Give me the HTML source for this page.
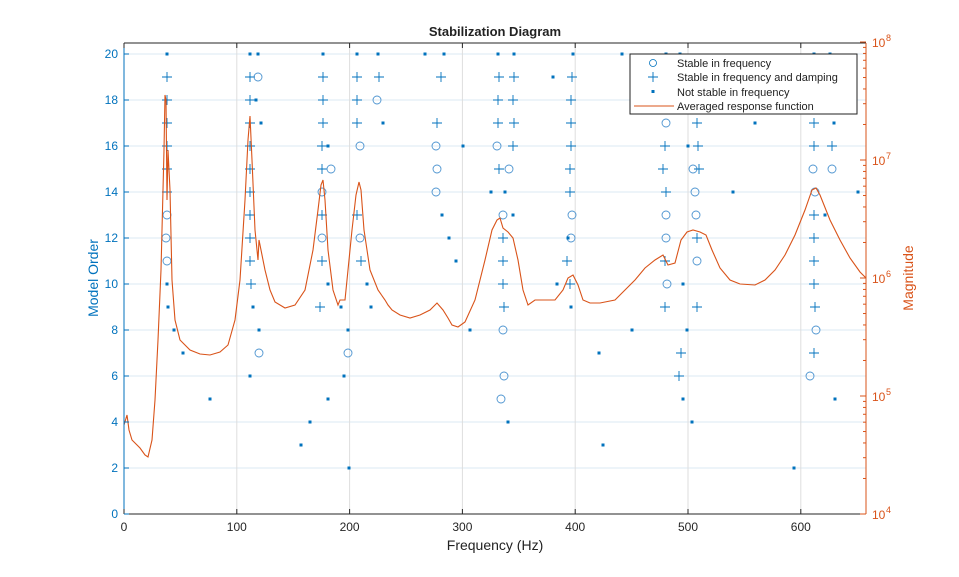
<!DOCTYPE html>
<html><head><meta charset="utf-8"><style>
html,body{margin:0;padding:0;background:#fff;}
svg{display:block;font-family:"Liberation Sans",sans-serif;}
</style></head><body>
<svg id="s" width="959" height="577" viewBox="0 0 959 577" xmlns="http://www.w3.org/2000/svg">
<rect width="959" height="577" fill="#fff"/>
<g id="grid"></g>
<g id="data"></g>
<g id="axes"></g>
<text x="495" y="36" text-anchor="middle" font-size="13" font-weight="bold" fill="#222">Stabilization Diagram</text>
<text x="495" y="550" text-anchor="middle" font-size="14" fill="#222">Frequency (Hz)</text>
<text transform="translate(98,278) rotate(-90)" text-anchor="middle" font-size="14" fill="#0072BD">Model Order</text>
<text transform="translate(913,278) rotate(-90)" text-anchor="middle" font-size="14" fill="#D95319">Magnitude</text>
<g id="legend">
<rect x="630" y="54" width="227" height="60" fill="#fff" stroke="#222" stroke-width="1"/>
<circle cx="653" cy="63" r="3.5" fill="none" stroke="#0072BD" stroke-width="0.8"/>
<path d="M648,77h10M653,72v10" stroke="#0072BD" stroke-width="0.9"/>
<rect x="651.5" y="90" width="3" height="3" fill="#0072BD"/>
<path d="M634,106H674" stroke="#D95319" stroke-width="1"/>
<text x="677" y="67" font-size="11" fill="#222">Stable in frequency</text>
<text x="677" y="81" font-size="11" fill="#222">Stable in frequency and damping</text>
<text x="677" y="96" font-size="11" fill="#222">Not stable in frequency</text>
<text x="677" y="110" font-size="11" fill="#222">Averaged response function</text>
</g>
</svg>
<script>
const NS="http://www.w3.org/2000/svg";
function el(p,t,a,txt){const e=document.createElementNS(NS,t);for(const k in a)e.setAttribute(k,a[k]);if(txt!==undefined)e.textContent=txt;document.getElementById(p).appendChild(e);return e;}
const L=124,R=866,T=43,B=514;
const X=f=>L+f*1.128, Y=o=>B-23*o;
// grid
for(let o=2;o<=20;o+=2)el("grid","line",{x1:L,x2:R,y1:Y(o),y2:Y(o),stroke:"#dbe8f3","stroke-width":1});
for(let f=100;f<=600;f+=100)el("grid","line",{x1:X(f),x2:X(f),y1:T,y2:B,stroke:"#dedede","stroke-width":1});
// data points: [x px, order, type]
const rows={
20:"d167 d250 d258 d323 d357 d378 d425 d444 d498 d514 d573 d622 d666 d680 d814 d830",
19:"p167 p250 o258 p323 p357 p379 p441 p499 p514 d553 p572",
18:"p167 p250 d256 p323 p357 o377 p498 p513 p571",
17:"p167 p250 d261 p323 p357 d383 p437 p498 p514 p571 o666 p697 d755 p814 d834",
16:"p167 p250 p322 d328 o360 o436 d463 o497 p513 p571 p665 d688 p698 p814 p832",
15:"p167 p250 p322 o331 o437 p499 o509 p570 p663 o693 p699 o813 o832",
14:"p167 p250 o322 o436 d491 d505 p570 p666 o695 d733 o815 d858",
13:"o167 p250 p322 p357 d442 o503 d513 o572 o666 o696 p814 d825",
12:"o166 p250 o322 o360 d449 p503 o571 d568 o666 p697 p814",
11:"o167 p250 p322 p361 d456 p503 p567 p665 o697 p814",
10:"d167 p251 d328 d367 p503 d557 p570 o667 d683 p814",
9:"d168 d253 p320 d341 d371 p504 d571 p665 p697 p815",
8:"d174 d259 d348 d470 o503 d632 d687 o816",
7:"d183 o259 o348 d599 p681 p814",
6:"d250 d344 o504 p679 o810",
5:"d210 d328 o501 d683 d835",
4:"d310 d508 d692",
3:"d301 d603",
2:"d349 d794"};
const C="#0072BD";
for(const o in rows){const y=Y(+o);rows[o].split(" ").forEach(s=>{const t=s[0],x=+s.slice(1);
 if(t==="o")el("data","circle",{cx:x,cy:y,r:4,fill:"none",stroke:"#4d94d0","stroke-width":0.9});
 else if(t==="p")el("data","path",{d:`M${x-5},${y}h10M${x},${y-5}v10`,stroke:C,"stroke-width":0.9});
 else el("data","rect",{x:x-1.5,y:y-1.5,width:3,height:3,fill:C});});}
// curve
const pts=[[124,425],[127,415],[129,430],[132,440],[140,448],[145,455],[148,457],[152,440],[155,400],[158,340],[161,270],[164,150],[165,95],[166,100],[167,200],[168,150],[170,190],[172,280],[175,320],[180,340],[190,350],[200,354],[210,355],[220,352],[228,345],[235,320],[240,280],[245,200],[248,140],[250,116],[252,160],[255,230],[258,260],[259,240],[262,255],[265,270],[270,290],[275,302],[285,308],[295,305],[305,290],[313,250],[318,210],[321,185],[323,180],[325,200],[328,250],[333,290],[338,305],[340,300],[345,300],[352,230],[356,195],[359,182],[361,190],[364,230],[370,270],[378,290],[385,300],[388,305],[392,310],[400,315],[410,318],[420,315],[430,310],[437,303],[443,310],[448,318],[452,325],[458,327],[465,322],[475,300],[485,260],[492,230],[497,220],[500,218],[503,228],[508,232],[513,238],[518,260],[523,290],[528,305],[535,300],[545,300],[555,300],[563,290],[568,278],[573,275],[578,285],[583,300],[590,303],[600,303],[615,300],[625,290],[635,280],[645,268],[655,260],[663,255],[668,265],[675,263],[681,240],[687,232],[693,230],[700,232],[706,235],[712,250],[720,268],[730,280],[740,284],[755,285],[765,280],[775,270],[785,255],[795,235],[805,210],[812,190],[816,188],[820,195],[830,220],[840,240],[850,258],[860,272],[866,278]];
el("data","polyline",{points:pts.map(p=>p.join(",")).join(" "),fill:"none",stroke:"#D95319","stroke-width":1.1});
// axes
el("axes","line",{x1:L,x2:R,y1:T,y2:T,stroke:"#262626"});
el("axes","line",{x1:L,x2:R,y1:B,y2:B,stroke:"#262626"});
el("axes","line",{x1:L,x2:L,y1:T,y2:B,stroke:C});
el("axes","line",{x1:R,x2:R,y1:T,y2:B,stroke:"#D95319"});
for(let f=0;f<=600;f+=100){const x=X(f);el("axes","line",{x1:x,x2:x,y1:B,y2:B-5,stroke:"#262626"});el("axes","line",{x1:x,x2:x,y1:T,y2:T+5,stroke:"#262626"});
 el("axes","text",{x:x,y:B+17,"text-anchor":"middle","font-size":12,fill:"#262626"},""+f);}
for(let o=0;o<=20;o+=2){const y=Y(o);el("axes","line",{x1:L,x2:L+5,y1:y,y2:y,stroke:C});
 el("axes","text",{x:L-6,y:y+4,"text-anchor":"end","font-size":12,fill:C},""+o);}
const O="#D95319";
for(let d=0;d<4;d++){const y0=B-118*d;for(let k=2;k<=9;k++){const y=y0-118*Math.log10(k);el("axes","line",{x1:R-3,x2:R,y1:y,y2:y,stroke:O});}}
for(let d=0;d<=4;d++){const y=B-118*d;el("axes","line",{x1:R-6,x2:R,y1:y,y2:y,stroke:O});
 const t=el("axes","text",{x:R+6,y:y+5,"font-size":12,fill:O},"10");
 el("axes","text",{x:R+20,y:y-1,"font-size":9,fill:O},""+(d+4));}
</script>
</body></html>
